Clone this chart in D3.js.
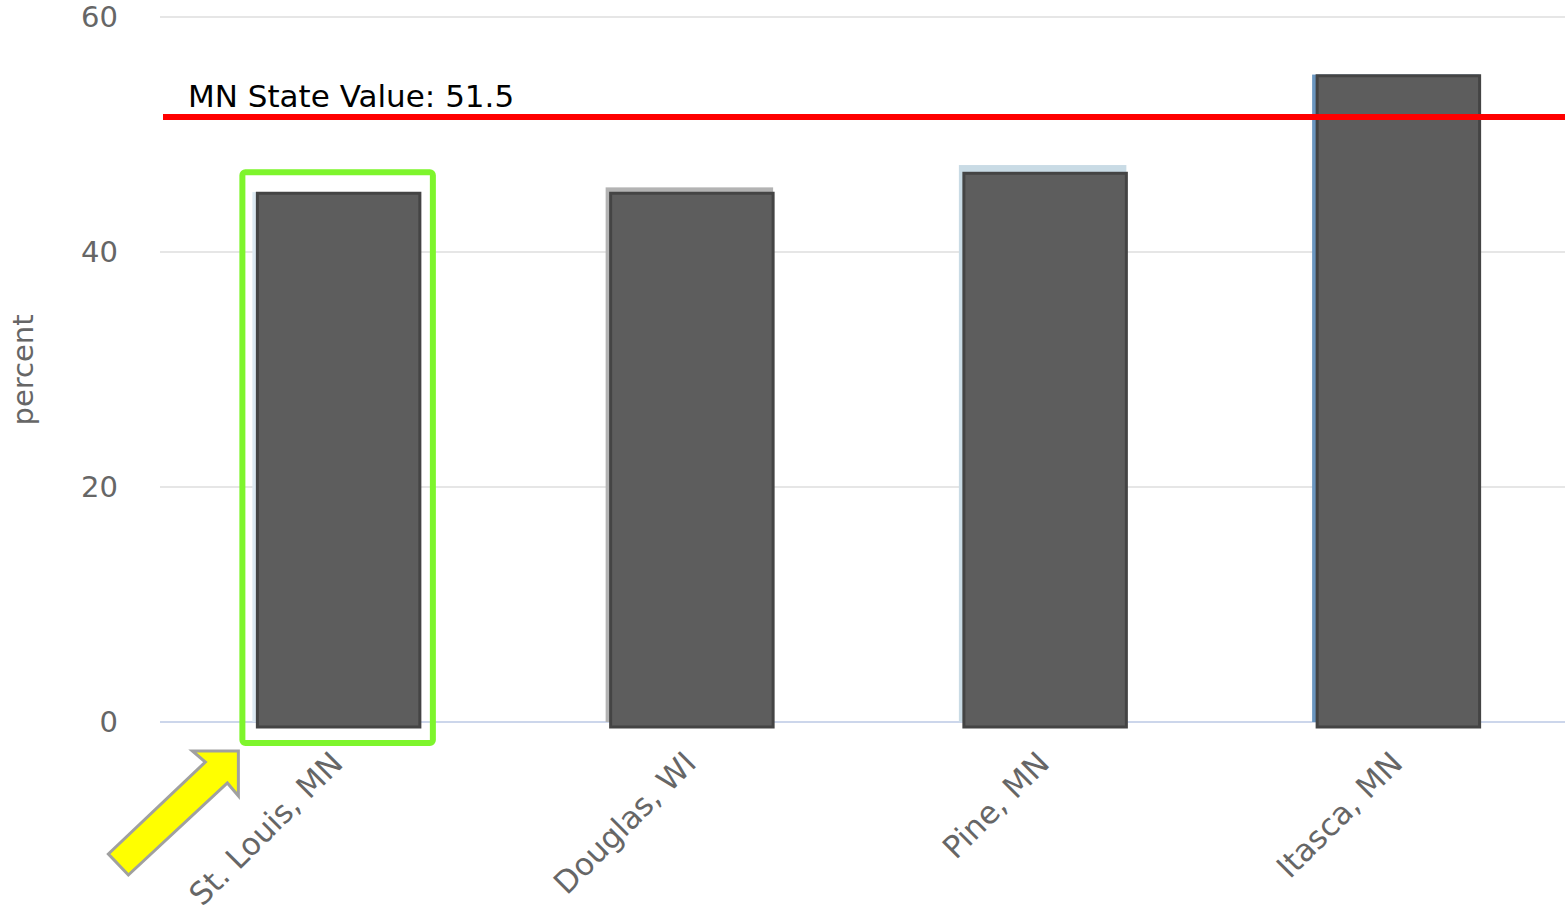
<!DOCTYPE html>
<html><head><meta charset="utf-8">
<script src="https://cdn.jsdelivr.net/npm/d3@7"></script>
<style>html,body{margin:0;padding:0;background:#fff;}svg{display:block;}</style>
</head><body>
<svg id="chart" width="1565" height="915"></svg>
<script>
const categories = ["St. Louis, MN", "Douglas, WI", "Pine, MN", "Itasca, MN"];
const values = [45.0, 45.0, 46.7, 55.0];
const shadowValues = [45.1, 45.5, 47.4, 55.1];
const shadowColors = ["#dce9f2", "#b3b3b3", "#c9dbe5", "#6a96c0"];
const yTicks = [0, 20, 40, 60];
const stateValue = 51.5;
const stateLabel = "MN State Value: 51.5";
const highlighted = "St. Louis, MN";

const svg = d3.select("#chart");
const font = "DejaVu Sans, sans-serif";
const y = d3.scaleLinear().domain([0, 60]).range([722, 17]);
const x = d3.scaleBand().domain(categories).range([162, 1575]).paddingInner(0.54).paddingOuter(0.27);
const bw = x.bandwidth();
const left = 160, right = 1565;

// gridlines
svg.append("g").selectAll("line").data(yTicks.filter(d => d > 0)).join("line")
  .attr("x1", left).attr("x2", right).attr("y1", d => y(d)).attr("y2", d => y(d))
  .attr("stroke", "#e6e6e6").attr("stroke-width", 2);
svg.append("line").attr("x1", left).attr("x2", right).attr("y1", y(0)).attr("y2", y(0))
  .attr("stroke", "#ccd6eb").attr("stroke-width", 2);

// y tick labels
svg.append("g").selectAll("text").data(yTicks).join("text")
  .attr("x", 118).attr("y", d => y(d)).attr("dy", "0.36em")
  .attr("text-anchor", "end").attr("font-family", font).attr("font-size", 29)
  .attr("fill", "#666").text(d => d);

// y axis title
svg.append("text").attr("transform", "translate(33,370) rotate(-90)")
  .attr("text-anchor", "middle").attr("font-family", font).attr("font-size", 29)
  .attr("fill", "#666").text("percent");

const data = categories.map((c, i) => ({c, v: values[i], s: shadowValues[i], col: shadowColors[i]}));

// shadow (underlying) bars
svg.append("g").selectAll("rect").data(data).join("rect")
  .attr("x", d => x(d.c) - 5).attr("width", bw + 5)
  .attr("y", d => y(d.s)).attr("height", d => y(0) - y(d.s))
  .attr("fill", d => d.col);

// main bars
svg.append("g").selectAll("rect").data(data).join("rect")
  .attr("x", d => x(d.c)).attr("width", bw)
  .attr("y", d => y(d.v)).attr("height", d => y(0) - y(d.v) + 5)
  .attr("fill", "#5d5d5d").attr("stroke", "#444").attr("stroke-width", 3);

// state line
svg.append("line").attr("x1", 163).attr("x2", right).attr("y1", y(stateValue)).attr("y2", y(stateValue))
  .attr("stroke", "#ff0000").attr("stroke-width", 6);
svg.append("text").attr("x", 188).attr("y", y(stateValue) - 10)
  .attr("font-family", font).attr("font-size", 31).attr("fill", "#000").text(stateLabel);

// x labels
svg.append("g").selectAll("text").data(categories).join("text")
  .attr("transform", d => `translate(${x(d) + bw / 2 + 6},${y(0) + 43}) rotate(-45)`)
  .attr("text-anchor", "end").attr("font-family", font).attr("font-size", 31)
  .attr("fill", "#666").text(d => d);

// highlight box
const hx = x(highlighted);
const hv = values[categories.indexOf(highlighted)];
svg.append("rect").attr("x", hx - 15).attr("y", y(hv) - 21)
  .attr("width", bw + 28).attr("height", y(0) + 21 - (y(hv) - 21))
  .attr("rx", 3).attr("fill", "none").attr("stroke", "#7ef52c").attr("stroke-width", 6);

// arrow
const tip = [hx - 19, y(0) + 29];
const arrowPts = [[0,0],[-46,0],[-33,11],[-130,103],[-110,124],[-11,32],[0,45]];
svg.append("path")
  .attr("d", d3.line()(arrowPts.map(p => [tip[0] + p[0], tip[1] + p[1]])) + "Z")
  .attr("fill", "#ffff00").attr("stroke", "#a0a0a0").attr("stroke-width", 3).attr("stroke-linejoin", "miter");
</script>
</body></html>
